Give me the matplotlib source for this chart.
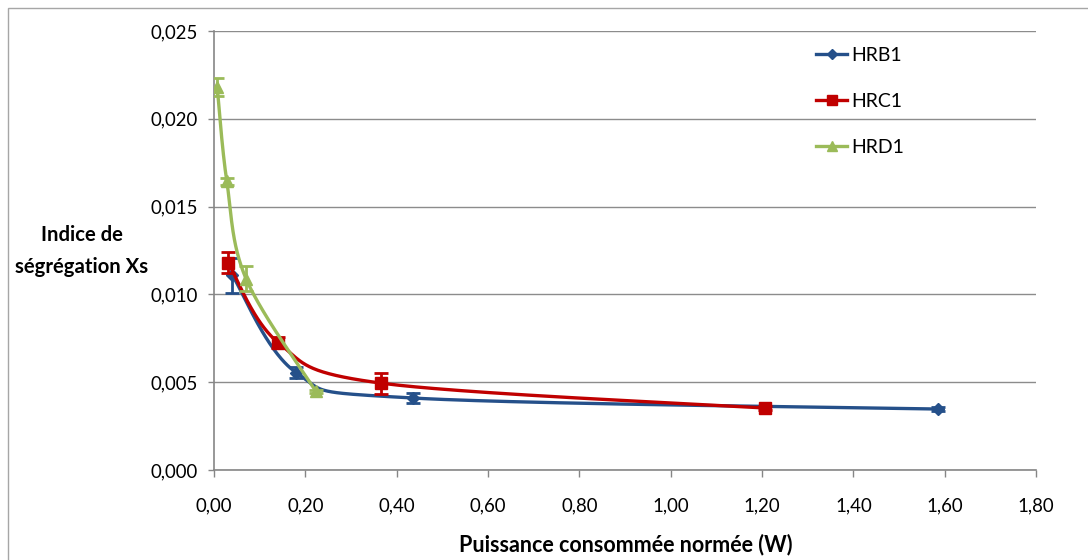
import numpy as np
import matplotlib
matplotlib.use("Agg")
import matplotlib.pyplot as plt
from matplotlib.patches import Rectangle
from matplotlib.lines import Line2D

# ---- data ----
series_names = ["HRB1", "HRC1", "HRD1"]
hrb1_x = [0.040, 0.180, 0.435, 1.585]
hrb1_y = [0.0111, 0.00555, 0.00410, 0.00347]
hrb1_err = [0.0010, 0.0003, 0.0003, 0.0001]

hrc1_x = [0.031, 0.141, 0.365, 1.206]
hrc1_y = [0.0118, 0.00725, 0.00495, 0.00353]
hrc1_err = [0.0006, 0.0003, 0.0006, 0.0001]

hrd1_x = [0.007, 0.028, 0.070, 0.223]
hrd1_y = [0.0218, 0.01645, 0.0109, 0.00448]
hrd1_err = [0.0005, 0.0002, 0.0007, 0.0001]

x_ticks = [0.0, 0.2, 0.4, 0.6, 0.8, 1.0, 1.2, 1.4, 1.6, 1.8]
x_tick_labels = ["0,00", "0,20", "0,40", "0,60", "0,80", "1,00", "1,20", "1,40", "1,60", "1,80"]
y_ticks = [0.0, 0.005, 0.010, 0.015, 0.020, 0.025]
y_tick_labels = ["0,000", "0,005", "0,010", "0,015", "0,020", "0,025"]

colors = ["#25508A", "#C00000", "#9BBB59"]
markers = ["D", "s", "^"]
msizes = [6, 8, 8]

FONT = ["Lato", "DejaVu Sans"]
plt.rcParams["font.family"] = FONT


def smooth(xs, ys, n=60):
    """Excel-like smoothed line: cubic Bezier with Catmull-Rom control points."""
    xs = np.asarray(xs, float)
    ys = np.asarray(ys, float)
    P = np.column_stack([xs, ys])
    m = len(P)
    out = []
    for i in range(m - 1):
        p0 = P[i - 1] if i > 0 else P[i]
        p1 = P[i]
        p2 = P[i + 1]
        p3 = P[i + 2] if i + 2 < m else P[i + 1]
        c1 = p1 + (p2 - p0) / 6.0
        c2 = p2 - (p3 - p1) / 6.0
        t = np.linspace(0, 1, n)[:, None]
        seg = ((1 - t) ** 3) * p1 + 3 * ((1 - t) ** 2) * t * c1 + 3 * (1 - t) * t ** 2 * c2 + t ** 3 * p2
        out.append(seg if i == 0 else seg[1:])
    arr = np.vstack(out)
    return arr[:, 0], arr[:, 1]


fig = plt.figure(figsize=(10.88, 5.6), dpi=100)
ax = fig.add_axes([214 / 1088, 90 / 560, 822 / 1088, 439 / 560])

# outer chart border
fig.patches.append(Rectangle((8 / 1088, -0.05), 1.2, (552 / 560) + 0.05,
                             transform=fig.transFigure, fill=False,
                             edgecolor="#A6A6A6", linewidth=1.0))

all_x = [hrb1_x, hrc1_x, hrd1_x]
all_y = [hrb1_y, hrc1_y, hrd1_y]
all_e = [hrb1_err, hrc1_err, hrd1_err]

for k, (xs, ys, es) in enumerate(zip(all_x, all_y, all_e)):
    sx, sy = smooth(xs, ys)
    ax.plot(sx, sy, color=colors[k], linewidth=2.4, zorder=3 + k, solid_capstyle="round")
    ax.errorbar(xs, ys, yerr=es, fmt=markers[k], color=colors[k], markersize=msizes[k],
                ecolor=colors[k], elinewidth=2, capsize=5, capthick=2, zorder=3.5 + k)

ax.set_xlim(0, 1.8)
ax.set_ylim(0, 0.025)
ax.set_xticks(x_ticks)
ax.set_xticklabels(x_tick_labels)
ax.set_yticks(y_ticks)
ax.set_yticklabels(y_tick_labels)
ax.tick_params(axis="x", direction="out", length=5, width=1, color="#868686", pad=15, labelsize=13.4)
ax.tick_params(axis="y", direction="out", length=4.5, width=1, color="#868686", pad=7, labelsize=13.4)
ax.grid(axis="y", color="#8C8C8C", linewidth=1)
ax.set_axisbelow(True)
for s in ["top", "right"]:
    ax.spines[s].set_visible(False)
for s in ["left", "bottom"]:
    ax.spines[s].set_color("#868686")
    ax.spines[s].set_linewidth(1.2)

fig.text(82 / 1088, 1 - 251 / 560, "Indice de\nségrégation Xs", ha="center", va="center",
         fontsize=14.6, fontweight="bold", multialignment="center", linespacing=1.8)
fig.text(626 / 1088, 1 - 545 / 560, "Puissance consommée normée (W)", ha="center", va="center",
         fontsize=15.5, fontweight="bold")

handles = [Line2D([0], [0], color=colors[k], marker=markers[k], markersize=msizes[k] - 1,
                  linewidth=2.4) for k in range(3)]
ax.legend(handles, series_names, loc="upper left", bbox_to_anchor=(816 / 1088, 1 - 47 / 560),
          bbox_transform=fig.transFigure, frameon=False, fontsize=14,
          handlelength=1.6, handletextpad=0.2, labelspacing=1.48, borderaxespad=0,
          borderpad=0)

fig.savefig("out.png", dpi=100)
